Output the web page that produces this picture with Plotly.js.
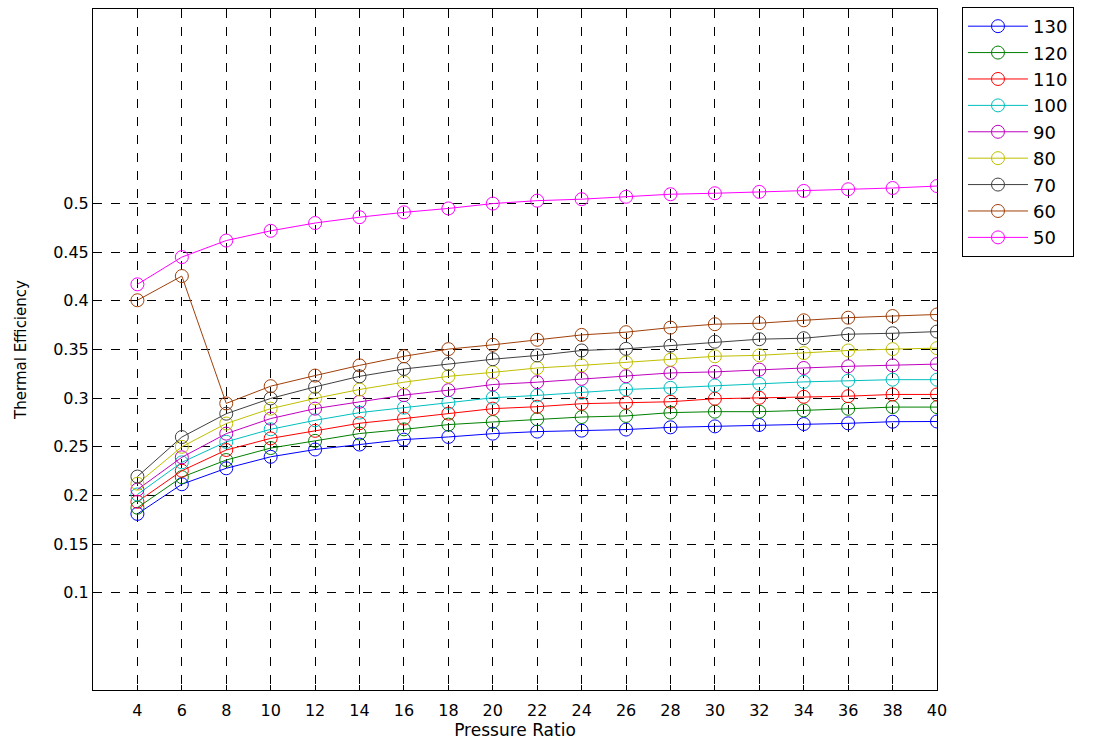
<!DOCTYPE html>
<html>
<head>
<meta charset="utf-8">
<script src="https://cdn.plot.ly/plotly-3.0.1.min.js"></script>
<style>
html,body{margin:0;padding:0;background:#fff;}
#chart{width:1095px;height:742px;}
</style>
</head>
<body>
<div id="chart"></div>
<script>
const pressureRatio = [4,6,8,10,12,14,16,18,20,22,24,26,28,30,32,34,36,38,40];

const eff130 = [0.181,0.2115,0.2279,0.2397,0.2472,0.2523,0.2574,0.2601,0.2635,0.2656,0.2666,0.2677,0.2700,0.2710,0.2724,0.2734,0.2741,0.2758,0.2760];
const eff120 = [0.1874,0.2188,0.2364,0.2487,0.2561,0.2636,0.2679,0.2728,0.2755,0.2783,0.2806,0.2817,0.2851,0.2861,0.2861,0.2874,0.2891,0.2908,0.2908];
const eff110 = [0.1935,0.2254,0.2467,0.2586,0.2664,0.2742,0.2790,0.2841,0.2892,0.2912,0.2943,0.2953,0.2963,0.2994,0.3004,0.3014,0.3020,0.3038,0.3038];
const eff100 = [0.2010,0.2340,0.2551,0.2680,0.2772,0.2851,0.2902,0.2953,0.3004,0.3028,0.3055,0.3089,0.3106,0.3130,0.3147,0.3167,0.3180,0.3190,0.3190];
const eff90  = [0.2060,0.2392,0.2635,0.2790,0.2892,0.2963,0.3031,0.3082,0.3140,0.3164,0.3198,0.3225,0.3259,0.3270,0.3293,0.3310,0.3327,0.3337,0.3350];
const eff80  = [0.2120,0.2500,0.2739,0.2892,0.2997,0.3089,0.3164,0.3224,0.3265,0.3310,0.3337,0.3368,0.3395,0.3430,0.3440,0.3463,0.3490,0.3504,0.3514];
const eff70  = [0.2194,0.2600,0.2840,0.2997,0.3116,0.3224,0.3300,0.3351,0.3400,0.3439,0.3490,0.3507,0.3540,0.3580,0.3606,0.3616,0.3657,0.3667,0.3684];
const eff60  = [0.4006,0.4255,0.2946,0.3123,0.3232,0.3337,0.3430,0.3504,0.3548,0.3600,0.3650,0.3678,0.3725,0.3760,0.3770,0.3800,0.3827,0.3844,0.3860];
const eff50  = [0.4170,0.4450,0.4620,0.4720,0.4800,0.4860,0.4910,0.4950,0.5000,0.5030,0.5045,0.5070,0.5096,0.5106,0.5120,0.5130,0.5147,0.5160,0.5180];

const seriesNames = ['130','120','110','100','90','80','70','60','50'];
const seriesData = [eff130,eff120,eff110,eff100,eff90,eff80,eff70,eff60,eff50];
const seriesColors = ['#0000ff','#008000','#ff0000','#00bfbf','#bf00bf','#bfbf00','#404040','#a0400a','#ff00ff'];

const yTicks = [0.1,0.15,0.2,0.25,0.3,0.35,0.4,0.45,0.5];
const yTickText = ['0.1','0.15','0.2','0.25','0.3','0.35','0.4','0.45','0.5'];

const traces = seriesData.map((d,i)=>({
  x: pressureRatio,
  y: d,
  name: seriesNames[i],
  type: 'scatter',
  mode: 'lines+markers',
  line: {color: seriesColors[i], width: 1},
  marker: {symbol: 'circle-open', size: 13, color: seriesColors[i], line: {width: 1, color: seriesColors[i]}}
}));

const fontFam = 'DejaVu Sans, Arial, sans-serif';
const layout = {
  width: 1095, height: 742,
  paper_bgcolor: '#fff', plot_bgcolor: '#fff',
  margin: {l: 93, r: 158, t: 8, b: 52},
  font: {family: fontFam, size: 16, color: '#000'},
  showlegend: true,
  legend: {
    x: 1.0296, y: 1.0015, xanchor: 'left', yanchor: 'top',
    bordercolor: '#000', borderwidth: 1, bgcolor: '#fff',
    font: {family: fontFam, size: 18, color: '#000'},
    itemwidth: 60, tracegroupgap: 0
  },
  xaxis: {
    range: [2, 40],
    tickvals: pressureRatio,
    ticktext: pressureRatio.map(String),
    ticks: 'inside', ticklen: 5, tickcolor: '#000',
    ticklabelstandoff: 6,
    showgrid: true, gridcolor: '#000', griddash: 'dash', gridwidth: 1,
    showline: true, linecolor: '#000', linewidth: 1, mirror: 'ticks',
    zeroline: false,
    tickfont: {family: fontFam, size: 16, color: '#000'},
    title: {text: 'Pressure Ratio', font: {family: fontFam, size: 17, color: '#000'}, standoff: 2}
  },
  yaxis: {
    range: [0, 0.7],
    tickvals: yTicks,
    ticktext: yTickText,
    ticks: 'inside', ticklen: 5, tickcolor: '#000',
    showgrid: true, gridcolor: '#000', griddash: 'dash', gridwidth: 1,
    showline: true, linecolor: '#000', linewidth: 1, mirror: 'ticks',
    zeroline: false,
    tickfont: {family: fontFam, size: 16, color: '#000'},
    title: {text: 'Thermal Efficiency', font: {family: fontFam, size: 15, color: '#000'}, standoff: 22}
  }
};

Plotly.newPlot('chart', traces, layout, {displayModeBar: false, staticPlot: true});
</script>
</body>
</html>
